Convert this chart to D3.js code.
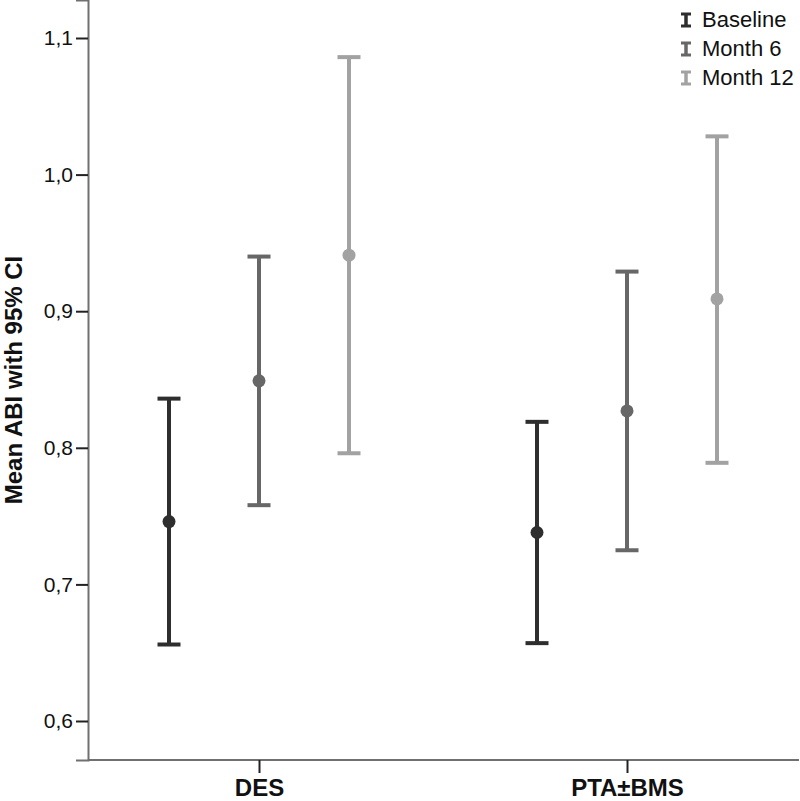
<!DOCTYPE html>
<html>
<head>
<meta charset="utf-8">
<script src="https://cdn.jsdelivr.net/npm/d3@7"></script>
<style>
  html, body { margin: 0; padding: 0; background: #fff; }
  svg { display: block; font-family: "Liberation Sans", Arial, sans-serif; }
</style>
</head>
<body>
<svg id="chart" width="800" height="801"></svg>
<script>
// ---- data ----
const categories = ["DES", "PTA±BMS"];
const series = ["Baseline", "Month 6", "Month 12"];
const seriesColors = ["#2e2e2e", "#676767", "#a2a2a2"];
// mean, lower CI, upper CI per category (rows) and series (columns)
const meanValues = [
  [0.746, 0.849, 0.941],
  [0.738, 0.827, 0.909]
];
const lowerValues = [
  [0.656, 0.758, 0.796],
  [0.657, 0.725, 0.789]
];
const upperValues = [
  [0.836, 0.940, 1.086],
  [0.819, 0.929, 1.028]
];
const yTickValues = [0.6, 0.7, 0.8, 0.9, 1.0, 1.1];
const yTickLabels = ["0,6", "0,7", "0,8", "0,9", "1,0", "1,1"];
const yTitle = "Mean ABI with 95% CI";

// ---- layout ----
const svg = d3.select("#chart");
const axisX = 88, axisBottom = 760, axisRight = 799;

const y = d3.scaleLinear()
  .domain([0.6 - 39 / 1366, 1.1 + 38 / 1366])
  .range([axisBottom, 0]);

const x = d3.scalePoint().domain(categories).range([259, 627]);
const xs = d3.scalePoint().domain(series).range([-90, 90]);

// y axis
const yAxis = d3.axisLeft(y)
  .tickValues(yTickValues)
  .tickFormat((d, i) => yTickLabels[i])
  .tickSizeOuter(0)
  .tickSize(12)
  .tickPadding(3);
const gy = svg.append("g").attr("transform", `translate(${axisX},0)`).call(yAxis);
gy.select(".domain").attr("stroke", "#707070").attr("stroke-width", 2);
gy.selectAll(".tick line").attr("stroke", "#222").attr("stroke-width", 2);
gy.selectAll(".tick text")
  .attr("fill", "#111")
  .style("font-size", "21px")
  .style("font-family", "'Liberation Sans', Arial, sans-serif");

// x axis
const xAxis = d3.axisBottom(x).tickSizeOuter(0).tickSize(13).tickPadding(6);
const gx = svg.append("g").attr("transform", `translate(0,${axisBottom})`).call(xAxis);
gx.select(".domain").remove();
gx.insert("line", ":first-child")
  .attr("x1", axisX).attr("x2", axisRight)
  .attr("y1", 0).attr("y2", 0)
  .attr("stroke", "#707070").attr("stroke-width", 2);
gx.selectAll(".tick line").attr("stroke", "#222").attr("stroke-width", 2);
gx.selectAll(".tick text")
  .attr("fill", "#111")
  .style("font-size", "24px")
  .style("font-weight", "bold")
  .style("font-family", "'Liberation Sans', Arial, sans-serif");

// y title
svg.append("text")
  .attr("transform", "translate(22,380) rotate(-90)")
  .attr("text-anchor", "middle")
  .attr("fill", "#111")
  .style("font-size", "24px")
  .style("font-weight", "bold")
  .text(yTitle);

// error bars
const capHalf = 11.5;
const rows = [];
categories.forEach((c, ci) => {
  series.forEach((s, si) => {
    rows.push({
      cat: c, ser: s, color: seriesColors[si],
      mean: meanValues[ci][si], lo: lowerValues[ci][si], hi: upperValues[ci][si]
    });
  });
});

const g = svg.append("g");
const bars = g.selectAll("g.bar").data(rows).join("g").attr("class", "bar")
  .attr("transform", d => `translate(${x(d.cat) + xs(d.ser)},0)`);

bars.append("line")
  .attr("x1", 0).attr("x2", 0)
  .attr("y1", d => y(d.lo)).attr("y2", d => y(d.hi))
  .attr("stroke", d => d.color).attr("stroke-width", 4);
bars.append("line")
  .attr("x1", -capHalf).attr("x2", capHalf)
  .attr("y1", d => y(d.hi)).attr("y2", d => y(d.hi))
  .attr("stroke", d => d.color).attr("stroke-width", 4);
bars.append("line")
  .attr("x1", -capHalf).attr("x2", capHalf)
  .attr("y1", d => y(d.lo)).attr("y2", d => y(d.lo))
  .attr("stroke", d => d.color).attr("stroke-width", 4);
bars.append("circle")
  .attr("cx", 0).attr("cy", d => y(d.mean)).attr("r", 6.5)
  .attr("fill", d => d.color);

// legend
const legend = svg.append("g").attr("transform", "translate(686,0)");
const li = legend.selectAll("g").data(series).join("g")
  .attr("transform", (d, i) => `translate(0,${i * 29})`);
li.append("line").attr("x1", 0).attr("x2", 0).attr("y1", 13).attr("y2", 27)
  .attr("stroke", (d, i) => seriesColors[i]).attr("stroke-width", 3.5);
li.append("line").attr("x1", -5).attr("x2", 5).attr("y1", 14).attr("y2", 14)
  .attr("stroke", (d, i) => seriesColors[i]).attr("stroke-width", 3);
li.append("line").attr("x1", -5).attr("x2", 5).attr("y1", 26).attr("y2", 26)
  .attr("stroke", (d, i) => seriesColors[i]).attr("stroke-width", 3);
li.append("text").attr("x", 16).attr("y", 27)
  .attr("fill", "#111")
  .style("font-size", "22px")
  .text(d => d);
</script>
</body>
</html>
